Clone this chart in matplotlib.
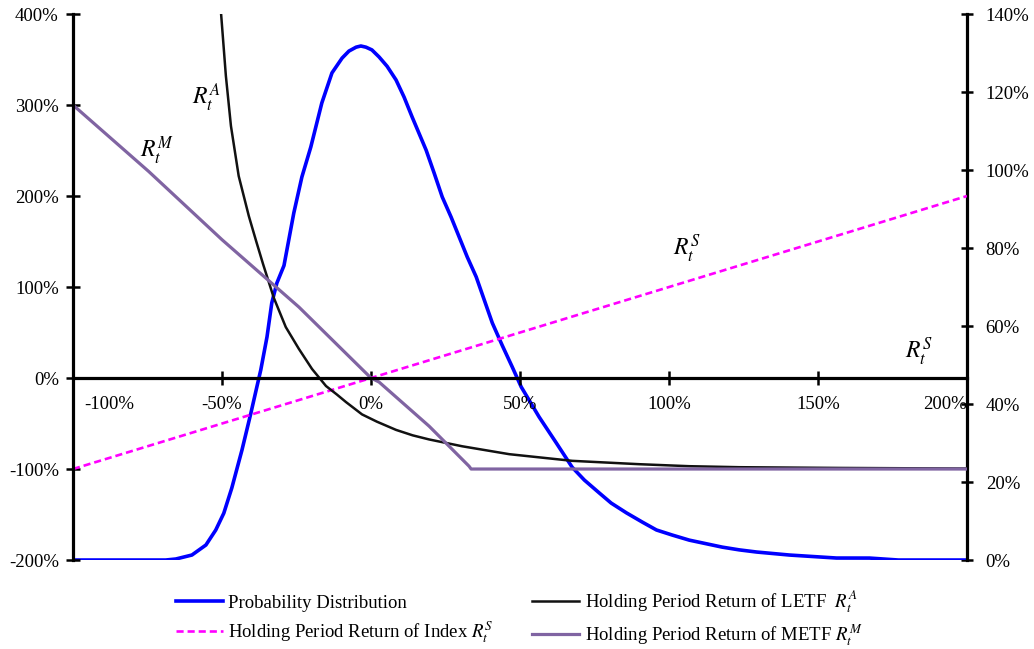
import matplotlib
matplotlib.use("Agg")
import matplotlib.pyplot as plt
from matplotlib.ticker import FuncFormatter
from matplotlib.transforms import ScaledTranslation

plt.rcParams['font.family'] = ['Liberation Serif', 'DejaVu Serif']
plt.rcParams['mathtext.fontset'] = 'stix'

# probability distribution of index return (right axis, %)
prob_x = [-100, -68.9, -65.5, -60.1, -55.4, -52.1, -49.4, -46.7, -43.3, -40.3, -38.3,
          -37.0, -34.9, -33.3, -31.6, -29.2, -25.9, -23.2, -20.2, -16.5, -13.1, -9.7,
          -7.4, -5.0, -3.4, -1.7, 0.3, 2.7, 5.4, 8.4, 11.1, 13.8, 18.5, 21.2, 23.9, 26.9,
          29.6, 32.3, 35.3, 38.0, 40.7, 44.0, 47.4, 50.4, 56.4, 62.2, 67.5, 71.6, 76.6,
          80.6, 85.7, 91.1, 95.8, 101.1, 106.8, 117.9, 123.6, 129.4, 140.4, 156.2, 167.3,
          177, 200]
prob_y = [0, 0, 0.26, 1.28, 3.85, 7.69, 12.0, 18.5, 28.2, 37.7, 44.4,
          48.7, 57.2, 65.9, 71.0, 75.5, 89.0, 98.2, 105.9, 117.2, 124.9, 128.7,
          130.5, 131.5, 131.8, 131.5, 130.8, 129.0, 126.6, 123.1, 118.7, 113.6, 105.1, 99.2,
          93.1, 87.9, 82.8, 77.7, 72.6, 66.7, 60.8, 55.1, 49.5, 44.4, 36.7, 30.0, 23.8,
          20.5, 17.2, 14.6, 12.1, 9.7, 7.7, 6.4, 5.1, 3.3, 2.6, 2.05, 1.28, 0.51, 0.5,
          0, 0]

# index holding period return
index_x = [-100, 200]
index_y = [-100, 200]

# LETF holding period return
letf_x = [-50.3, -48.7, -47.0, -44.4, -41.0, -38.5, -36.2, -32.6, -28.6, -24.2, -19.8,
          -15.1, -11.5, -8.4, -3.0, 2.0, 8.4, 14.0, 19.5, 30.6, 46.4, 67.5, 90.0,
          106.8, 123.6, 157.0, 200]
letf_y = [400, 332, 277, 222, 178, 150, 125, 88, 56, 32, 10,
          -8.8, -18, -26.4, -40, -48, -57, -63, -67.5, -75, -83.7, -91, -94.7,
          -96.9, -98, -98.8, -99.5]

# METF holding period return
metf_x = [-100, -74.6, -50, -24.2, 0, 2.7, 19.5, 32.9, 33.6, 200]
metf_y = [300, 227, 152, 78, 0, -4.4, -52.9, -96.9, -100, -100]

xticks = [-100, -50, 0, 50, 100, 150, 200]
yticks_left = [-200, -100, 0, 100, 200, 300, 400]
yticks_right = [0, 20, 40, 60, 80, 100, 120, 140]

pct = FuncFormatter(lambda v, pos: f"{v:.0f}%")

fig = plt.figure(figsize=(10.34, 6.49), dpi=100)
ax = fig.add_axes([0.0706, 0.1371, 0.8646, 0.8413])
ax2 = ax.twinx()

ln_prob, = ax2.plot(prob_x, prob_y, color='#0000ff', lw=2.6,
                    label='Probability Distribution')
ln_idx, = ax.plot(index_x, index_y, color='#ff00ff', lw=1.9, ls=(0, (2.7, 1.5)),
                  label=r'Holding Period Return of Index $R_t^S$')
ln_letf, = ax.plot(letf_x, letf_y, color='#111111', lw=1.8,
                   label=r'Holding Period Return of LETF  $R_t^A$')
ln_metf, = ax.plot(metf_x, metf_y, color='#8064a2', lw=2.3,
                   label=r'Holding Period Return of METF $R_t^M$')

# primary axes drawn over the twin so the dashed line sits on top of the blue one
ax.set_zorder(ax2.get_zorder() + 1)
ax.patch.set_visible(False)

ax.set_xlim(-100, 200)
ax.set_ylim(-200, 400)
ax2.set_ylim(0, 140)

ax.set_xticks(xticks)
ax.set_yticks(yticks_left)
ax2.set_yticks(yticks_right)
ax.xaxis.set_major_formatter(pct)
ax.yaxis.set_major_formatter(pct)
ax2.yaxis.set_major_formatter(pct)

for s in ['top', 'right']:
    ax.spines[s].set_visible(False)
for s in ['top', 'left', 'bottom']:
    ax2.spines[s].set_visible(False)
ax.spines['bottom'].set_position(('data', 0))
ax.spines['bottom'].set_linewidth(2.3)
ax.spines['left'].set_linewidth(2.3)
ax2.spines['right'].set_linewidth(2.3)

ax.tick_params(axis='both', direction='inout', length=9.4, width=1.8, labelsize=13.5)
ax.tick_params(axis='y', pad=5.5)
ax.tick_params(axis='x', pad=8.5)
ax2.tick_params(axis='y', direction='inout', length=9, width=1.8, labelsize=13.5, pad=9)

xlabels = ax.get_xticklabels()
xlabels[0].set_ha('left')
xlabels[0].set_transform(xlabels[0].get_transform() + ScaledTranslation(0.11, 0, fig.dpi_scale_trans))
xlabels[-1].set_ha('right')

ax.text(-55.4, 309, r'$R_t^A$', fontsize=17, ha='center', va='center')
ax.text(-71.9, 250, r'$R_t^M$', fontsize=17, ha='center', va='center')
ax.text(106, 142, r'$R_t^S$', fontsize=17, ha='center', va='center')
ax.text(184, 28.6, r'$R_t^S$', fontsize=17, ha='center', va='center')

fig.legend(handles=[ln_prob, ln_idx, ln_letf, ln_metf], loc='center',
           bbox_to_anchor=(0.502, 0.047), ncol=2, frameon=False, fontsize=13.5,
           handlelength=2.5, columnspacing=2.05, handletextpad=0.3, labelspacing=0.4)

fig.savefig('out.png', dpi=100)
